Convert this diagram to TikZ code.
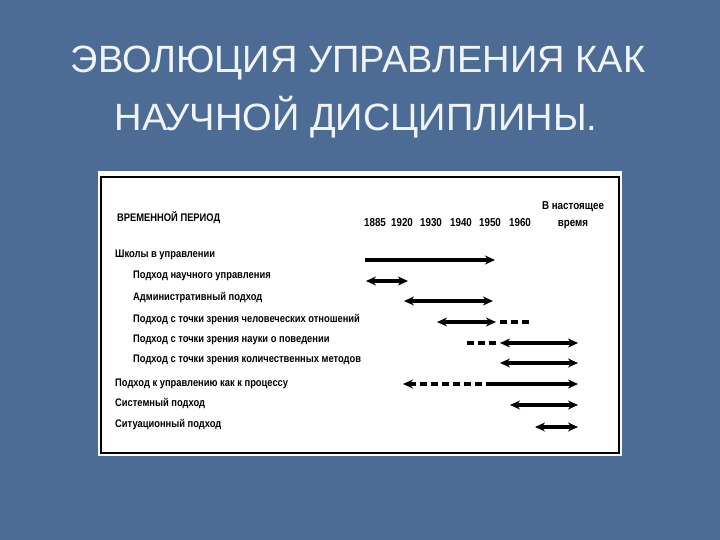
\documentclass[tikz,border=0pt]{standalone}
\usepackage{fontspec}
\setmainfont{Liberation Sans}
\newfontfamily\tabfont[FakeStretch=0.85]{Liberation Sans}
\usetikzlibrary{arrows.meta}
\definecolor{bgblue}{RGB}{76,108,150}
\definecolor{titlecol}{RGB}{240,245,250}
\begin{document}
\begin{tikzpicture}[x=1pt,y=-1pt,
  titletext/.style={font=\fontsize{38}{44}\selectfont, text=titlecol, anchor=base, inner sep=0},
  lbl/.style={font=\tabfont\bfseries\fontsize{11}{13}\selectfont, anchor=base west, inner sep=0},
  yr/.style={font=\tabfont\bfseries\fontsize{11.5}{13}\selectfont, anchor=base, inner sep=0},
  arr/.style={line width=3.2pt, draw=black},
  dsh/.style={line width=3.2pt, draw=black, dash pattern=on 7pt off 4pt},
  bothheads/.style={arr, {Stealth[length=10pt,width=9pt]}-{Stealth[length=10pt,width=9pt]}},
  onehead/.style={arr, -{Stealth[length=10pt,width=9pt]}},
  lefthead/.style={dsh, {Stealth[length=10pt,width=9pt]}-}
]
\useasboundingbox (0,0) rectangle (720,540);
\fill[bgblue] (0,0) rectangle (720,540);

% title
\node[titletext] (t1) at (358,73) {ЭВОЛЮЦИЯ УПРАВЛЕНИЯ КАК};
\node[titletext] (t2) at (356,131) {НАУЧНОЙ ДИСЦИПЛИНЫ.};

% chart frame
\fill[white] (98,171) rectangle (622,456);
\draw[black, line width=2.2pt] (101,177) rectangle (619,453);

% header
\node[lbl] (hdr) at (117,222) {ВРЕМЕННОЙ ПЕРИОД};
\node[yr] (y1) at (375,226) {1885};
\node[yr] (y2) at (402,226) {1920};
\node[yr] (y3) at (431,226) {1930};
\node[yr] (y4) at (461,226) {1940};
\node[yr] (y5) at (490,226) {1950};
\node[yr] (y6) at (520,226) {1960};
\node[yr] (y7a) at (573,210) {В настоящее};
\node[yr] (y7b) at (573,226) {время};

% row labels
\node[lbl] (r1) at (115,257) {Школы в управлении};
\node[lbl] (r2) at (133,278) {Подход научного управления};
\node[lbl] (r3) at (133,300) {Административный подход};
\node[lbl] (r4) at (133,322) {Подход с точки зрения человеческих отношений};
\node[lbl] (r5) at (133,342) {Подход с точки зрения науки о поведении};
\node[lbl] (r6) at (133,362) {Подход с точки зрения количественных методов};
\node[lbl] (r7) at (115,386) {Подход к управлению как к процессу};
\node[lbl] (r8) at (115,406) {Системный подход};
\node[lbl] (r9) at (115,427) {Ситуационный подход};

% arrow end points
\coordinate (a1s) at (365,260); \coordinate (a1e) at (495,260);
\coordinate (a2s) at (366,281); \coordinate (a2e) at (408,281);
\coordinate (a3s) at (404,301); \coordinate (a3e) at (493,301);
\coordinate (a4s) at (437,322); \coordinate (a4m) at (496,322); \coordinate (a4e) at (529,322);
\coordinate (a5s) at (467,343); \coordinate (a5m) at (500,343); \coordinate (a5e) at (578,343);
\coordinate (a6s) at (500,363); \coordinate (a6e) at (578,363);
\coordinate (a7s) at (403,384); \coordinate (a7m) at (492,384); \coordinate (a7e) at (578,384);
\coordinate (a8s) at (510,405); \coordinate (a8e) at (578,405);
\coordinate (a9s) at (535,427); \coordinate (a9e) at (578,427);

% arrows
\draw[onehead] (a1s) -- (a1e);
\draw[bothheads] (a2s) -- (a2e);
\draw[bothheads] (a3s) -- (a3e);
\draw[bothheads] (a4s) -- (a4m);
\draw[dsh] ([xshift=4pt]a4m) -- (a4e);
\draw[dsh] (a5s) -- (a5m);
\draw[bothheads] (a5m) -- (a5e);
\draw[bothheads] (a6s) -- (a6e);
\draw[lefthead] (a7s) -- (a7m);
\draw[onehead] (a7m) -- (a7e);
\draw[bothheads] (a8s) -- (a8e);
\draw[bothheads] (a9s) -- (a9e);
\end{tikzpicture}
\end{document}
